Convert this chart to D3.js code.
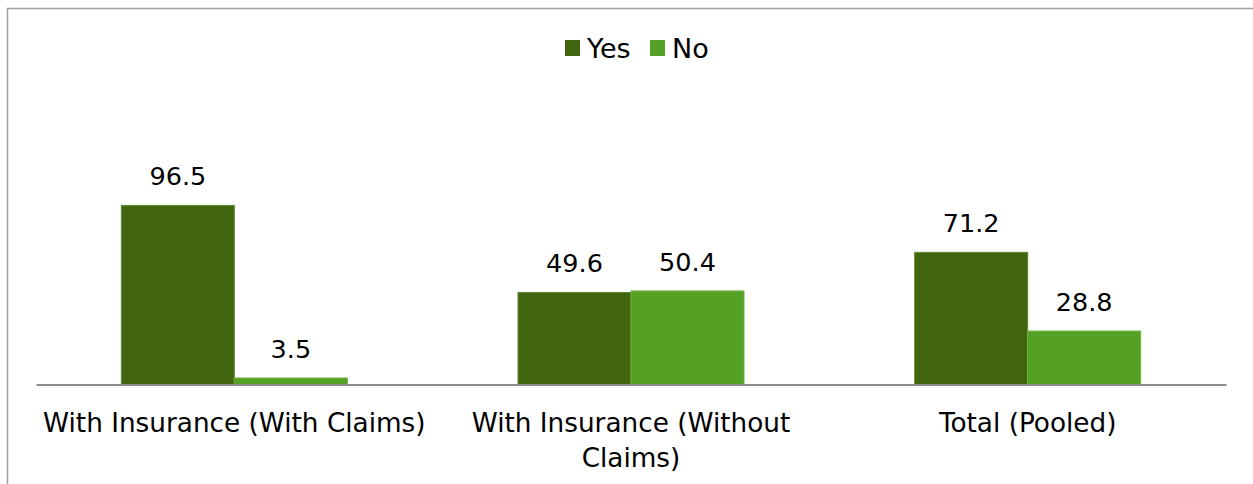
<!DOCTYPE html>
<html><head><meta charset="utf-8">
<script src="https://cdn.jsdelivr.net/npm/d3@7"></script>
<style>
html,body{margin:0;padding:0;background:#fff;}
svg{display:block;}
text{font-family:"DejaVu Sans",sans-serif;fill:#000;}
</style></head>
<body>
<script>
const categories = [["With Insurance (With Claims)"], ["With Insurance (Without", "Claims)"], ["Total (Pooled)"]];
const categoryKeys = ["c1", "c2", "c3"];
const seriesNames = ["Yes", "No"];
const yesValues = [96.5, 49.6, 71.2];
const noValues = [3.5, 50.4, 28.8];
const seriesColors = ["#41650F", "#55A125"];

const W = 1253, H = 484;
const svg = d3.select("body").append("svg").attr("width", W).attr("height", H);

// frame
svg.append("rect").attr("x", 7.5).attr("y", 8.5).attr("width", W + 20).attr("height", H + 20)
  .attr("fill", "none").attr("stroke", "#a0a0a0").attr("stroke-width", 1.5);

const x0 = d3.scaleBand().domain(categoryKeys).range([36, 1226]).paddingInner(0).paddingOuter(0);
const x1 = d3.scaleBand().domain(seriesNames).range([0, 226]);
const y = d3.scaleLinear().domain([0, 100]).range([384.5, 198.9]);

const data = categoryKeys.map((k, i) => ({ key: k, values: [yesValues[i], noValues[i]] }));

const g = svg.append("g");
const groups = g.selectAll("g.grp").data(data).enter().append("g")
  .attr("transform", d => `translate(${x0(d.key) + x0.bandwidth() / 2 - 113},0)`);

groups.selectAll("rect").data(d => d.values.map((v, j) => ({ v, s: seriesNames[j], j })))
  .enter().append("rect")
  .attr("x", d => x1(d.s))
  .attr("y", d => y(d.v))
  .attr("width", x1.bandwidth())
  .attr("height", d => y(0) - y(d.v))
  .attr("fill", d => seriesColors[d.j])
  .attr("stroke", d => d.j === 0 ? "#5e8a36" : "#6fb23f")
  .attr("stroke-width", 1);

groups.selectAll("text.val").data(d => d.values.map((v, j) => ({ v, s: seriesNames[j] })))
  .enter().append("text").attr("class", "val")
  .attr("x", d => x1(d.s) + x1.bandwidth() / 2)
  .attr("y", d => y(d.v) - 20)
  .attr("text-anchor", "middle")
  .style("font-size", "25.5px")
  .text(d => d.v.toFixed(1));

// axis
const axis = d3.axisBottom(x0).tickSize(0).tickFormat("");
const ax = svg.append("g").attr("transform", "translate(0,384.5)").call(axis);
ax.select(".domain").attr("stroke", "#8c8c8c").attr("stroke-width", 2);

// category labels
categoryKeys.forEach((k, i) => {
  const t = svg.append("text")
    .attr("x", x0(k) + x0.bandwidth() / 2)
    .attr("y", 432)
    .attr("text-anchor", "middle")
    .style("font-size", "26.3px");
  categories[i].forEach((line, li) => {
    t.append("tspan").attr("x", x0(k) + x0.bandwidth() / 2).attr("dy", li === 0 ? 0 : 35).text(line);
  });
});

// legend
const legend = svg.append("g");
const legItems = [{ name: "Yes", x: 565 }, { name: "No", x: 650 }];
legItems.forEach((it, i) => {
  legend.append("rect").attr("x", it.x).attr("y", 40).attr("width", 15).attr("height", 16)
    .attr("fill", seriesColors[i]);
  legend.append("text").attr("x", it.x + 22).attr("y", 58).style("font-size", "27px").text(it.name);
});
</script>
</body></html>
